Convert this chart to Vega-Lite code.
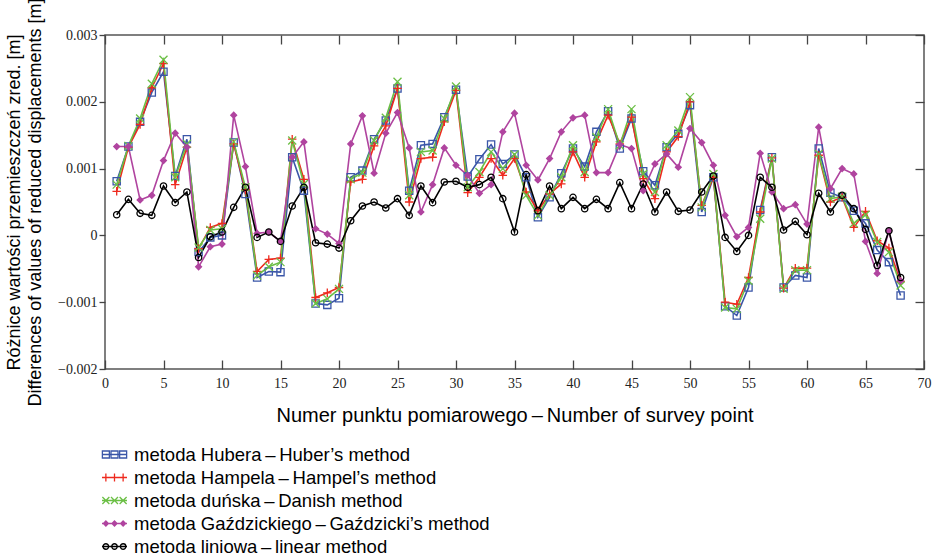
{
"$schema": "https://vega.github.io/schema/vega-lite/v6.json",
"width": 819, "height": 334,
"autosize": {"type": "none"},
"padding": {"left": 105, "top": 35, "right": 14, "bottom": 189},
"background": "white",
"config": {"view": {"stroke": "#555555", "strokeWidth": 1.5}, "font": "Liberation Sans"},
"datasets": {"d": [
{"p":1,"m":"Hub","v":0.00081},{"p":2,"m":"Hub","v":0.00133},{"p":3,"m":"Hub","v":0.0017},{"p":4,"m":"Hub","v":0.00214},{"p":5,"m":"Hub","v":0.00245},{"p":6,"m":"Hub","v":0.00089},{"p":7,"m":"Hub","v":0.00144},{"p":8,"m":"Hub","v":-0.00025},{"p":9,"m":"Hub","v":-0.00003},{"p":10,"m":"Hub","v":0.0},{"p":11,"m":"Hub","v":0.00139},{"p":12,"m":"Hub","v":0.00062},{"p":13,"m":"Hub","v":-0.00063},{"p":14,"m":"Hub","v":-0.00054},{"p":15,"m":"Hub","v":-0.00055},{"p":16,"m":"Hub","v":0.00117},{"p":17,"m":"Hub","v":0.00067},{"p":18,"m":"Hub","v":-0.00102},{"p":19,"m":"Hub","v":-0.00104},{"p":20,"m":"Hub","v":-0.00094},{"p":21,"m":"Hub","v":0.00087},{"p":22,"m":"Hub","v":0.00097},{"p":23,"m":"Hub","v":0.00144},{"p":24,"m":"Hub","v":0.00172},{"p":25,"m":"Hub","v":0.0022},{"p":26,"m":"Hub","v":0.00067},{"p":27,"m":"Hub","v":0.00135},{"p":28,"m":"Hub","v":0.00137},{"p":29,"m":"Hub","v":0.00177},{"p":30,"m":"Hub","v":0.00218},{"p":31,"m":"Hub","v":0.00088},{"p":32,"m":"Hub","v":0.00114},{"p":33,"m":"Hub","v":0.00136},{"p":34,"m":"Hub","v":0.00107},{"p":35,"m":"Hub","v":0.00121},{"p":36,"m":"Hub","v":0.00087},{"p":37,"m":"Hub","v":0.00027},{"p":38,"m":"Hub","v":0.00057},{"p":39,"m":"Hub","v":0.00093},{"p":40,"m":"Hub","v":0.0013},{"p":41,"m":"Hub","v":0.00103},{"p":42,"m":"Hub","v":0.00155},{"p":43,"m":"Hub","v":0.00186},{"p":44,"m":"Hub","v":0.0013},{"p":45,"m":"Hub","v":0.00175},{"p":46,"m":"Hub","v":0.00096},{"p":47,"m":"Hub","v":0.00075},{"p":48,"m":"Hub","v":0.00132},{"p":49,"m":"Hub","v":0.00152},{"p":50,"m":"Hub","v":0.00195},{"p":51,"m":"Hub","v":0.00035},{"p":52,"m":"Hub","v":0.00087},{"p":53,"m":"Hub","v":-0.00106},{"p":54,"m":"Hub","v":-0.0012},{"p":55,"m":"Hub","v":-0.00078},{"p":56,"m":"Hub","v":0.00038},{"p":57,"m":"Hub","v":0.00117},{"p":58,"m":"Hub","v":-0.00078},{"p":59,"m":"Hub","v":-0.0006},{"p":60,"m":"Hub","v":-0.00063},{"p":61,"m":"Hub","v":0.0013},{"p":62,"m":"Hub","v":0.00064},{"p":63,"m":"Hub","v":0.00057},{"p":64,"m":"Hub","v":0.00037},{"p":65,"m":"Hub","v":0.00018},{"p":66,"m":"Hub","v":-0.00022},{"p":67,"m":"Hub","v":-0.0004},{"p":68,"m":"Hub","v":-0.0009},
{"p":1,"m":"Ham","v":0.00066},{"p":2,"m":"Ham","v":0.00132},{"p":3,"m":"Ham","v":0.00166},{"p":4,"m":"Ham","v":0.00221},{"p":5,"m":"Ham","v":0.00257},{"p":6,"m":"Ham","v":0.00076},{"p":7,"m":"Ham","v":0.00132},{"p":8,"m":"Ham","v":-0.0002},{"p":9,"m":"Ham","v":0.00012},{"p":10,"m":"Ham","v":0.00018},{"p":11,"m":"Ham","v":0.00137},{"p":12,"m":"Ham","v":0.00068},{"p":13,"m":"Ham","v":-0.00054},{"p":14,"m":"Ham","v":-0.00036},{"p":15,"m":"Ham","v":-0.00034},{"p":16,"m":"Ham","v":0.00144},{"p":17,"m":"Ham","v":0.00084},{"p":18,"m":"Ham","v":-0.00093},{"p":19,"m":"Ham","v":-0.00086},{"p":20,"m":"Ham","v":-0.00078},{"p":21,"m":"Ham","v":0.0008},{"p":22,"m":"Ham","v":0.00084},{"p":23,"m":"Ham","v":0.00134},{"p":24,"m":"Ham","v":0.00164},{"p":25,"m":"Ham","v":0.0022},{"p":26,"m":"Ham","v":0.0005},{"p":27,"m":"Ham","v":0.00115},{"p":28,"m":"Ham","v":0.00117},{"p":29,"m":"Ham","v":0.0017},{"p":30,"m":"Ham","v":0.00217},{"p":31,"m":"Ham","v":0.00064},{"p":32,"m":"Ham","v":0.00087},{"p":33,"m":"Ham","v":0.00115},{"p":34,"m":"Ham","v":0.0009},{"p":35,"m":"Ham","v":0.00115},{"p":36,"m":"Ham","v":0.00065},{"p":37,"m":"Ham","v":0.00037},{"p":38,"m":"Ham","v":0.00062},{"p":39,"m":"Ham","v":0.00077},{"p":40,"m":"Ham","v":0.00125},{"p":41,"m":"Ham","v":0.00087},{"p":42,"m":"Ham","v":0.0014},{"p":43,"m":"Ham","v":0.0018},{"p":44,"m":"Ham","v":0.00137},{"p":45,"m":"Ham","v":0.00177},{"p":46,"m":"Ham","v":0.00085},{"p":47,"m":"Ham","v":0.00055},{"p":48,"m":"Ham","v":0.00125},{"p":49,"m":"Ham","v":0.00148},{"p":50,"m":"Ham","v":0.002},{"p":51,"m":"Ham","v":0.00045},{"p":52,"m":"Ham","v":0.00087},{"p":53,"m":"Ham","v":-0.001},{"p":54,"m":"Ham","v":-0.00103},{"p":55,"m":"Ham","v":-0.00063},{"p":56,"m":"Ham","v":0.00035},{"p":57,"m":"Ham","v":0.00116},{"p":58,"m":"Ham","v":-0.00079},{"p":59,"m":"Ham","v":-0.00049},{"p":60,"m":"Ham","v":-0.00049},{"p":61,"m":"Ham","v":0.0012},{"p":62,"m":"Ham","v":0.0005},{"p":63,"m":"Ham","v":0.00057},{"p":64,"m":"Ham","v":0.00012},{"p":65,"m":"Ham","v":0.00036},{"p":66,"m":"Ham","v":-0.00008},{"p":67,"m":"Ham","v":-0.00019},{"p":68,"m":"Ham","v":-0.00069},
{"p":1,"m":"Dan","v":0.00076},{"p":2,"m":"Dan","v":0.00134},{"p":3,"m":"Dan","v":0.00175},{"p":4,"m":"Dan","v":0.00227},{"p":5,"m":"Dan","v":0.00263},{"p":6,"m":"Dan","v":0.00087},{"p":7,"m":"Dan","v":0.00137},{"p":8,"m":"Dan","v":-0.00018},{"p":9,"m":"Dan","v":0.00008},{"p":10,"m":"Dan","v":0.0001},{"p":11,"m":"Dan","v":0.0014},{"p":12,"m":"Dan","v":0.00072},{"p":13,"m":"Dan","v":-0.0006},{"p":14,"m":"Dan","v":-0.00047},{"p":15,"m":"Dan","v":-0.0004},{"p":16,"m":"Dan","v":0.00142},{"p":17,"m":"Dan","v":0.00077},{"p":18,"m":"Dan","v":-0.00102},{"p":19,"m":"Dan","v":-0.00095},{"p":20,"m":"Dan","v":-0.0008},{"p":21,"m":"Dan","v":0.00084},{"p":22,"m":"Dan","v":0.00094},{"p":23,"m":"Dan","v":0.00142},{"p":24,"m":"Dan","v":0.00176},{"p":25,"m":"Dan","v":0.0023},{"p":26,"m":"Dan","v":0.0006},{"p":27,"m":"Dan","v":0.00125},{"p":28,"m":"Dan","v":0.00127},{"p":29,"m":"Dan","v":0.00175},{"p":30,"m":"Dan","v":0.00223},{"p":31,"m":"Dan","v":0.00072},{"p":32,"m":"Dan","v":0.00095},{"p":33,"m":"Dan","v":0.00125},{"p":34,"m":"Dan","v":0.001},{"p":35,"m":"Dan","v":0.00121},{"p":36,"m":"Dan","v":0.0006},{"p":37,"m":"Dan","v":0.0003},{"p":38,"m":"Dan","v":0.0006},{"p":39,"m":"Dan","v":0.00087},{"p":40,"m":"Dan","v":0.00135},{"p":41,"m":"Dan","v":0.00095},{"p":42,"m":"Dan","v":0.00147},{"p":43,"m":"Dan","v":0.00189},{"p":44,"m":"Dan","v":0.00135},{"p":45,"m":"Dan","v":0.00189},{"p":46,"m":"Dan","v":0.00092},{"p":47,"m":"Dan","v":0.00065},{"p":48,"m":"Dan","v":0.00135},{"p":49,"m":"Dan","v":0.00157},{"p":50,"m":"Dan","v":0.00207},{"p":51,"m":"Dan","v":0.00042},{"p":52,"m":"Dan","v":0.00092},{"p":53,"m":"Dan","v":-0.00108},{"p":54,"m":"Dan","v":-0.0011},{"p":55,"m":"Dan","v":-0.00068},{"p":56,"m":"Dan","v":0.00025},{"p":57,"m":"Dan","v":0.00115},{"p":58,"m":"Dan","v":-0.0008},{"p":59,"m":"Dan","v":-0.00052},{"p":60,"m":"Dan","v":-0.00052},{"p":61,"m":"Dan","v":0.00122},{"p":62,"m":"Dan","v":0.00055},{"p":63,"m":"Dan","v":0.00058},{"p":64,"m":"Dan","v":0.00018},{"p":65,"m":"Dan","v":0.00031},{"p":66,"m":"Dan","v":-0.0001},{"p":67,"m":"Dan","v":-0.00025},{"p":68,"m":"Dan","v":-0.00075},
{"p":1,"m":"Gaz","v":0.00133},{"p":2,"m":"Gaz","v":0.00133},{"p":3,"m":"Gaz","v":0.00053},{"p":4,"m":"Gaz","v":0.0006},{"p":5,"m":"Gaz","v":0.00112},{"p":6,"m":"Gaz","v":0.00153},{"p":7,"m":"Gaz","v":0.00132},{"p":8,"m":"Gaz","v":-0.00047},{"p":9,"m":"Gaz","v":-0.00017},{"p":10,"m":"Gaz","v":-0.00013},{"p":11,"m":"Gaz","v":0.0018},{"p":12,"m":"Gaz","v":0.00103},{"p":13,"m":"Gaz","v":0.00003},{"p":14,"m":"Gaz","v":0.00005},{"p":15,"m":"Gaz","v":-0.00009},{"p":16,"m":"Gaz","v":0.00117},{"p":17,"m":"Gaz","v":0.0014},{"p":18,"m":"Gaz","v":0.0001},{"p":19,"m":"Gaz","v":0.00002},{"p":20,"m":"Gaz","v":-0.00012},{"p":21,"m":"Gaz","v":0.00137},{"p":22,"m":"Gaz","v":0.00179},{"p":23,"m":"Gaz","v":0.00093},{"p":24,"m":"Gaz","v":0.00153},{"p":25,"m":"Gaz","v":0.00184},{"p":26,"m":"Gaz","v":0.00131},{"p":27,"m":"Gaz","v":0.00035},{"p":28,"m":"Gaz","v":0.00076},{"p":29,"m":"Gaz","v":0.00131},{"p":30,"m":"Gaz","v":0.00105},{"p":31,"m":"Gaz","v":0.0009},{"p":32,"m":"Gaz","v":0.00063},{"p":33,"m":"Gaz","v":0.00076},{"p":34,"m":"Gaz","v":0.00155},{"p":35,"m":"Gaz","v":0.00183},{"p":36,"m":"Gaz","v":0.00105},{"p":37,"m":"Gaz","v":0.00083},{"p":38,"m":"Gaz","v":0.00115},{"p":39,"m":"Gaz","v":0.00155},{"p":40,"m":"Gaz","v":0.00176},{"p":41,"m":"Gaz","v":0.0018},{"p":42,"m":"Gaz","v":0.00094},{"p":43,"m":"Gaz","v":0.00094},{"p":44,"m":"Gaz","v":0.00136},{"p":45,"m":"Gaz","v":0.0013},{"p":46,"m":"Gaz","v":0.00067},{"p":47,"m":"Gaz","v":0.00107},{"p":48,"m":"Gaz","v":0.00122},{"p":49,"m":"Gaz","v":0.00102},{"p":50,"m":"Gaz","v":0.0016},{"p":51,"m":"Gaz","v":0.00139},{"p":52,"m":"Gaz","v":0.00105},{"p":53,"m":"Gaz","v":0.0003},{"p":54,"m":"Gaz","v":-0.00002},{"p":55,"m":"Gaz","v":0.00012},{"p":56,"m":"Gaz","v":0.00123},{"p":57,"m":"Gaz","v":0.00065},{"p":58,"m":"Gaz","v":0.0004},{"p":59,"m":"Gaz","v":0.00046},{"p":60,"m":"Gaz","v":0.00017},{"p":61,"m":"Gaz","v":0.00162},{"p":62,"m":"Gaz","v":0.0007},{"p":63,"m":"Gaz","v":0.001},{"p":64,"m":"Gaz","v":0.00092},{"p":65,"m":"Gaz","v":-0.00009},{"p":66,"m":"Gaz","v":-0.00057},{"p":67,"m":"Gaz","v":0.00007},{"p":68,"m":"Gaz","v":-0.00068},
{"p":1,"m":"Lin","v":0.00031},{"p":2,"m":"Lin","v":0.00054},{"p":3,"m":"Lin","v":0.00033},{"p":4,"m":"Lin","v":0.0003},{"p":5,"m":"Lin","v":0.00074},{"p":6,"m":"Lin","v":0.00049},{"p":7,"m":"Lin","v":0.00065},{"p":8,"m":"Lin","v":-0.00033},{"p":9,"m":"Lin","v":-0.00002},{"p":10,"m":"Lin","v":0.00005},{"p":11,"m":"Lin","v":0.00042},{"p":12,"m":"Lin","v":0.00072},{"p":13,"m":"Lin","v":-0.00003},{"p":14,"m":"Lin","v":0.00005},{"p":15,"m":"Lin","v":-0.00009},{"p":16,"m":"Lin","v":0.00044},{"p":17,"m":"Lin","v":0.00072},{"p":18,"m":"Lin","v":-0.00011},{"p":19,"m":"Lin","v":-0.00013},{"p":20,"m":"Lin","v":-0.00019},{"p":21,"m":"Lin","v":0.00022},{"p":22,"m":"Lin","v":0.00044},{"p":23,"m":"Lin","v":0.0005},{"p":24,"m":"Lin","v":0.00041},{"p":25,"m":"Lin","v":0.00055},{"p":26,"m":"Lin","v":0.0003},{"p":27,"m":"Lin","v":0.00074},{"p":28,"m":"Lin","v":0.00049},{"p":29,"m":"Lin","v":0.0008},{"p":30,"m":"Lin","v":0.00081},{"p":31,"m":"Lin","v":0.00072},{"p":32,"m":"Lin","v":0.00076},{"p":33,"m":"Lin","v":0.00087},{"p":34,"m":"Lin","v":0.00055},{"p":35,"m":"Lin","v":0.00005},{"p":36,"m":"Lin","v":0.00091},{"p":37,"m":"Lin","v":0.00037},{"p":38,"m":"Lin","v":0.00074},{"p":39,"m":"Lin","v":0.0004},{"p":40,"m":"Lin","v":0.00057},{"p":41,"m":"Lin","v":0.0004},{"p":42,"m":"Lin","v":0.00054},{"p":43,"m":"Lin","v":0.0004},{"p":44,"m":"Lin","v":0.00079},{"p":45,"m":"Lin","v":0.0004},{"p":46,"m":"Lin","v":0.00077},{"p":47,"m":"Lin","v":0.00035},{"p":48,"m":"Lin","v":0.00065},{"p":49,"m":"Lin","v":0.00036},{"p":50,"m":"Lin","v":0.00038},{"p":51,"m":"Lin","v":0.00065},{"p":52,"m":"Lin","v":0.00089},{"p":53,"m":"Lin","v":-0.00003},{"p":54,"m":"Lin","v":-0.00024},{"p":55,"m":"Lin","v":0.0},{"p":56,"m":"Lin","v":0.00087},{"p":57,"m":"Lin","v":0.00072},{"p":58,"m":"Lin","v":0.00008},{"p":59,"m":"Lin","v":0.00021},{"p":60,"m":"Lin","v":0.00001},{"p":61,"m":"Lin","v":0.00063},{"p":62,"m":"Lin","v":0.00035},{"p":63,"m":"Lin","v":0.0006},{"p":64,"m":"Lin","v":0.0004},{"p":65,"m":"Lin","v":0.00009},{"p":66,"m":"Lin","v":-0.00045},{"p":67,"m":"Lin","v":0.00007},{"p":68,"m":"Lin","v":-0.00063}
]},
"data": {"name": "d"},
"layer": [
{
"mark": {"type": "line", "strokeWidth": 1.6},
"encoding": {
"x": {"field": "p", "type": "quantitative", "scale": {"domain": [0, 70], "nice": false, "zero": false},
 "axis": {"orient": "bottom", "values": [0,5,10,15,20,25,30,35,40,45,50,55,60,65,70], "domain": false, "grid": false, "labelFlush": false,
  "tickSize": -9, "tickColor": "#444444", "tickWidth": 1.3, "labelPadding": 16, "labelFont": "Liberation Serif", "labelFontSize": 14, "labelColor": "#222222",
  "title": "Numer punktu pomiarowego\u2009–\u2009Number of survey point", "titleFont": "Liberation Sans", "titleFontSize": 20, "titleFontWeight": "normal", "titleColor": "#000000", "titlePadding": 15}},
"y": {"field": "v", "type": "quantitative", "scale": {"domain": [-0.002, 0.003], "nice": false, "zero": false},
 "axis": {"orient": "left", "values": [-0.002,-0.001,0,0.001,0.002,0.003], "format": ".3~f", "domain": false, "grid": false,
  "tickSize": 6, "tickColor": "#444444", "tickWidth": 1.3, "labelPadding": 2, "labelFont": "Liberation Serif", "labelFontSize": 14, "labelColor": "#222222",
  "title": ["Różnice wartości przemieszczeń zred. [m]", "Differences of values of reduced displacements [m]"], "titleFont": "Liberation Sans", "titleFontSize": 18, "titleFontWeight": "normal", "titleColor": "#000000", "titleLineHeight": 21, "titlePadding": 13}},
"color": {"field": "m", "type": "nominal", "sort": null,
 "scale": {"domain": ["Hub","Ham","Dan","Gaz","Lin"], "range": ["#3a56a8","#ee2a1e","#6bbf45","#b0449f","#000000"]},
 "legend": {"orient": "none", "legendX": -4, "legendY": 406, "direction": "vertical", "title": null, "padding": 0,
  "labelFont": "Liberation Sans", "labelFontSize": 18.5, "labelColor": "#000000", "labelLimit": 0, "labelOffset": 6,
  "symbolSize": 625, "symbolStrokeWidth": 1.3, "rowPadding": 0,
  "labelExpr": "datum.value == 'Hub' ? 'metoda Hubera\u2009–\u2009Huber’s method' : datum.value == 'Ham' ? 'metoda Hampela\u2009–\u2009Hampel’s method' : datum.value == 'Dan' ? 'metoda duńska\u2009–\u2009Danish method' : datum.value == 'Gaz' ? 'metoda Gaździckiego\u2009–\u2009Gaździcki’s method' : 'metoda liniowa\u2009–\u2009linear method'",
  "encode": {"symbols": {"update": {
   "shape": {"signal": "datum.value == 'Hub' ? 'M-1,0H1M-0.97,-0.28h0.56v0.56h-0.56ZM-0.28,-0.28h0.56v0.56h-0.56ZM0.41,-0.28h0.56v0.56h-0.56Z' : datum.value == 'Ham' ? 'M-1,0H1M-0.69,-0.32V0.32M0,-0.32V0.32M0.69,-0.32V0.32' : datum.value == 'Dan' ? 'M-1,0H1M-0.97,-0.28L-0.41,0.28M-0.97,0.28L-0.41,-0.28M-0.28,-0.28L0.28,0.28M-0.28,0.28L0.28,-0.28M0.41,-0.28L0.97,0.28M0.41,0.28L0.97,-0.28' : datum.value == 'Gaz' ? 'M-1,0H1M-0.69,-0.2L-0.49,0L-0.69,0.2L-0.89,0ZM0,-0.2L0.2,0L0,0.2L-0.2,0ZM0.69,-0.2L0.89,0L0.69,0.2L0.49,0Z' : 'M-1,0H1M-0.47,0A0.22,0.22 0 1,1 -0.91,0A0.22,0.22 0 1,1 -0.47,0ZM0.22,0A0.22,0.22 0 1,1 -0.22,0A0.22,0.22 0 1,1 0.22,0ZM0.91,0A0.22,0.22 0 1,1 0.47,0A0.22,0.22 0 1,1 0.91,0Z'"},
   "fill": {"signal": "datum.value == 'Gaz' ? '#b0449f' : 'transparent'"},
   "size": {"value": 625},
   "strokeWidth": {"value": 1.3}
  }}}}}
}
},
{
"mark": {"type": "point", "filled": false, "strokeWidth": 1.3, "opacity": 1},
"encoding": {
"x": {"field": "p", "type": "quantitative",
 "axis": {"orient": "top", "values": [0,5,10,15,20,25,30,35,40,45,50,55,60,65,70], "domain": false, "grid": false, "labels": false, "title": null, "tickSize": -9, "tickColor": "#444444", "tickWidth": 1.3}},
"y": {"field": "v", "type": "quantitative",
 "axis": {"orient": "right", "values": [-0.002,-0.001,0,0.001,0.002,0.003], "domain": false, "grid": false, "labels": false, "title": null, "tickSize": -9, "tickColor": "#444444", "tickWidth": 1.3}},
"color": {"field": "m", "type": "nominal", "sort": null},
"shape": {"condition": [
  {"test": "datum.m == 'Hub'", "value": "M-1,-1H1V1H-1Z"},
  {"test": "datum.m == 'Ham'", "value": "M-1,0H1M0,-1V1"},
  {"test": "datum.m == 'Dan'", "value": "M-1,-1L1,1M-1,1L1,-1"},
  {"test": "datum.m == 'Gaz'", "value": "diamond"}], "value": "circle"},
"size": {"condition": [
  {"test": "datum.m == 'Hub'", "value": 52},
  {"test": "datum.m == 'Ham'", "value": 72},
  {"test": "datum.m == 'Dan'", "value": 64},
  {"test": "datum.m == 'Gaz'", "value": 34}], "value": 40},
"fill": {"condition": {"test": "datum.m == 'Gaz'", "value": "#b0449f"}, "value": "transparent"}
}
}
],
"resolve": {"axis": {"x": "independent", "y": "independent"}}
}
